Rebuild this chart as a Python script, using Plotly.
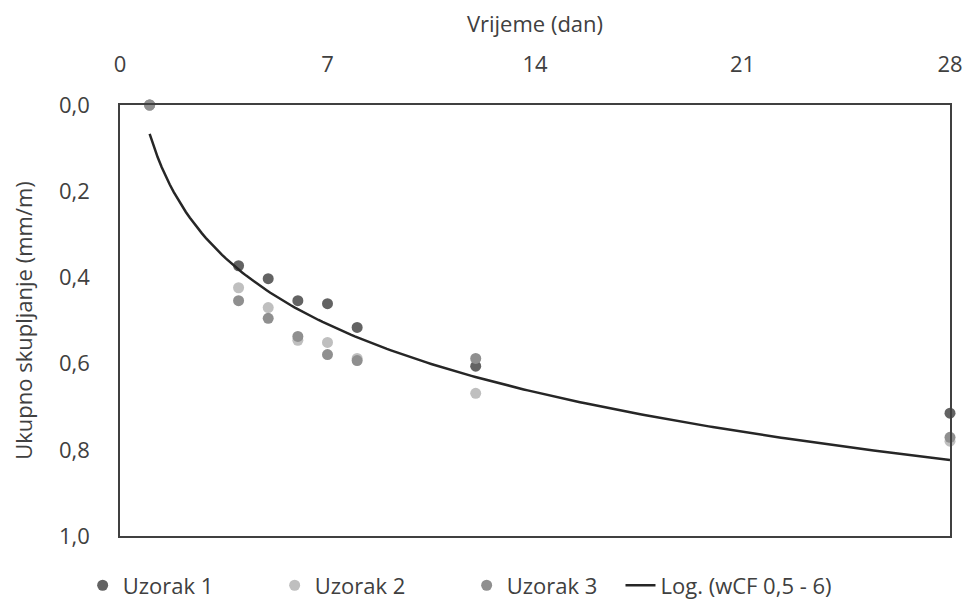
import numpy as np
import plotly.graph_objects as go

# vrijeme (dan)
dani = [1, 4, 5, 6, 7, 8, 12, 28]

# ukupno skupljanje (mm/m)
uzorak_1 = [0.0, 0.373, 0.403, 0.454, 0.461, 0.516, 0.606, 0.715]
uzorak_2 = [0.0, 0.424, 0.470, 0.546, 0.551, 0.588, 0.669, 0.780]
uzorak_3 = [0.0, 0.454, 0.495, 0.537, 0.579, 0.593, 0.588, 0.771]

x_ticks = [0, 7, 14, 21, 28]
y_ticks = [0.0, 0.2, 0.4, 0.6, 0.8, 1.0]

FONT = "Open Sans"

# logaritamski trend (kao u Excelu) - fit na sve uzorke
x_all = np.array(dani * 3, dtype=float)
y_all = np.array(uzorak_1 + uzorak_2 + uzorak_3)
a, b = np.polyfit(np.log(x_all), y_all, 1)
x_trend = np.linspace(min(dani), max(dani), 200)
y_trend = a * np.log(x_trend) + b

fig = go.Figure()

series = [
    ('Uzorak 1', uzorak_1, '#636363'),
    ('Uzorak 2', uzorak_2, '#bfbfbf'),
    ('Uzorak 3', uzorak_3, '#8f8f8f'),
]
for name, vals, color in series:
    fig.add_trace(go.Scatter(
        x=dani, y=vals, name=name, mode='markers',
        marker=dict(color=color, size=11),
        cliponaxis=False,
    ))

fig.add_trace(go.Scatter(
    x=x_trend, y=y_trend, name='Log. (wCF 0,5 - 6)', mode='lines',
    line=dict(color='#262626', width=2.5),
    legend='legend2',
))

legend_font = dict(size=22, color='#404040')

# stranica ima 8px margine tijela, zato je figura malo manja
fig.update_layout(
    width=957, height=598,
    margin=dict(l=112, r=15, t=97, b=70, autoexpand=False),
    plot_bgcolor='white', paper_bgcolor='white',
    separators=',.',
    font=dict(family=FONT, size=22, color='#404040'),
    showlegend=True,
    legend=dict(
        orientation='h', x=-0.045, y=-0.066, xanchor='left', yanchor='top',
        font=legend_font, itemwidth=30, entrywidth=147,
    ),
    legend2=dict(
        orientation='h', x=0.603, y=-0.066, xanchor='left', yanchor='top',
        font=legend_font, itemwidth=30,
    ),
    xaxis=dict(
        side='top', range=[0, 28], tickvals=x_ticks, automargin=False,
        title=dict(text='Vrijeme (dan)', font=dict(size=22), standoff=14),
        showgrid=False, zeroline=False, ticks='', ticklabelstandoff=22,
        showline=True, linecolor='#404040', linewidth=1.5, mirror=True,
    ),
    yaxis=dict(
        range=[1.0, 0.0], tickvals=y_ticks, tickformat='.1f', automargin=False,
        title=dict(text='Ukupno skupljanje (mm/m)', font=dict(size=22), standoff=24),
        showgrid=False, zeroline=False, ticks='', ticklabelstandoff=24,
        showline=True, linecolor='#404040', linewidth=1.5, mirror=True,
    ),
)

fig.write_html("out.html")
